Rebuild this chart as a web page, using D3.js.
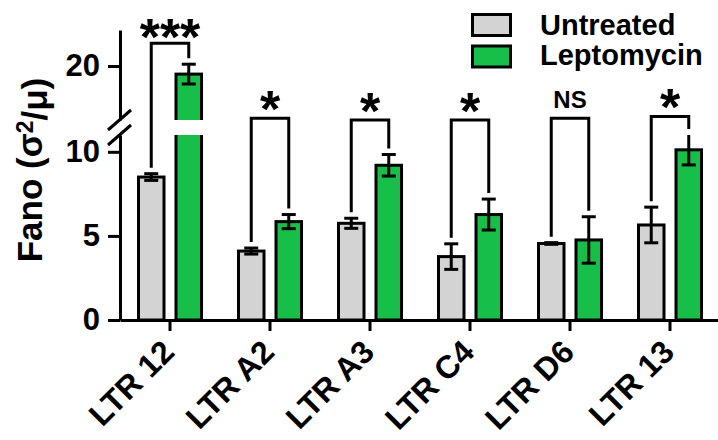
<!DOCTYPE html>
<html>
<head>
<meta charset="utf-8">
<script src="https://cdn.jsdelivr.net/npm/d3@7"></script>
<style>
  body { margin: 0; background: #fff; }
  svg { display: block; font-family: "Liberation Sans", Arial, sans-serif; font-weight: bold; }
</style>
</head>
<body>
<div id="chart"></div>
<script>
// data
const categories = ['LTR 12', 'LTR A2', 'LTR A3', 'LTR C4', 'LTR D6', 'LTR 13'];
const series = ['Untreated', 'Leptomycin'];
const untreated = [8.5, 4.1, 5.75, 3.77, 4.55, 5.65];
const untreatedErr = [0.2, 0.18, 0.3, 0.76, 0.05, 1.06];
const leptomycin = [19.55, 5.85, 9.2, 6.27, 4.76, 10.12];
const leptomycinErr = [0.55, 0.42, 0.64, 0.92, 1.38, 0.9];
const significance = ['***', '*', '*', '*', 'NS', '*'];
const bracketLevel = [21.26, 17.1, 17.0, 17.0, 17.1, 17.2]; // on the upper scale
const lowerTicks = [0, 5, 10];
const upperTicks = [20];
const lowerDomain = [0, 11];
const upperDomain = [17, 22];

const width = 718, height = 440;
const colors = { Untreated: '#d3d3d3', Leptomycin: '#17bf48' };
const values = { Untreated: untreated, Leptomycin: leptomycin };
const errors = { Untreated: untreatedErr, Leptomycin: leptomycinErr };

const svg = d3.select('#chart').append('svg')
  .attr('width', width)
  .attr('height', height);

// scales: broken y axis, two segments
const x = d3.scaleBand().domain(categories).range([120, 720]);
const xs = d3.scaleBand().domain(series).range([-33, 33]).paddingInner(0.24);
const yLow = d3.scaleLinear().domain(lowerDomain).range([320, 135]);
const yUp = d3.scaleLinear().domain(upperDomain).range([120, 30]);
const yOf = v => v <= lowerDomain[1] ? yLow(v) : yUp(v);
const cx = (c, s) => x(c) + x.bandwidth() / 2 + xs(s) + xs.bandwidth() / 2;

const defs = svg.append('defs');
defs.append('clipPath').attr('id', 'clipLow')
  .append('rect').attr('x', 0).attr('y', yLow(lowerDomain[1])).attr('width', width).attr('height', height);
defs.append('clipPath').attr('id', 'clipUp')
  .append('rect').attr('x', 0).attr('y', 0).attr('width', width).attr('height', yUp(upperDomain[0]));

// bars
const bw = xs.bandwidth() - 3;
series.forEach(s => {
  const lowTop = v => v > lowerDomain[1] ? yLow(lowerDomain[1]) - 6 : yLow(v);
  const gLow = svg.append('g').attr('clip-path', 'url(#clipLow)');
  gLow.selectAll('rect')
    .data(categories)
    .enter().append('rect')
    .attr('x', c => cx(c, s) - bw / 2)
    .attr('y', (c, i) => lowTop(values[s][i]))
    .attr('width', bw)
    .attr('height', (c, i) => yLow(0) - lowTop(values[s][i]))
    .attr('fill', colors[s])
    .attr('stroke', '#000')
    .attr('stroke-width', 3);

  const gUp = svg.append('g').attr('clip-path', 'url(#clipUp)');
  gUp.selectAll('rect')
    .data(categories.filter((c, i) => values[s][i] > upperDomain[0]))
    .enter().append('rect')
    .attr('x', c => cx(c, s) - bw / 2)
    .attr('y', c => yUp(values[s][categories.indexOf(c)]))
    .attr('width', bw)
    .attr('height', c => yUp(upperDomain[0]) + 6 - yUp(values[s][categories.indexOf(c)]))
    .attr('fill', colors[s])
    .attr('stroke', '#000')
    .attr('stroke-width', 3);
});

// error bars
const errG = svg.append('g').attr('stroke', '#000').attr('stroke-width', 3);
series.forEach(s => {
  categories.forEach((c, i) => {
    const v = values[s][i], e = errors[s][i];
    const xc = cx(c, s);
    let lo = v - e, hi = v + e, capHi = true;
    if (v <= lowerDomain[1] && hi > lowerDomain[1]) { hi = lowerDomain[1]; capHi = false; }
    errG.append('line').attr('x1', xc).attr('x2', xc).attr('y1', yOf(lo)).attr('y2', yOf(hi));
    errG.append('line').attr('x1', xc - 7).attr('x2', xc + 7).attr('y1', yOf(lo)).attr('y2', yOf(lo));
    if (capHi) errG.append('line').attr('x1', xc - 7).attr('x2', xc + 7).attr('y1', yOf(hi)).attr('y2', yOf(hi));
  });
});

// significance brackets
const topOf = (s, i) => Math.min(values[s][i] + errors[s][i],
  values[s][i] <= lowerDomain[1] ? lowerDomain[1] : Infinity);
const labelGap = [10, 13, 13, 13, 10, 13];
categories.forEach((c, i) => {
  const yb = yUp(bracketLevel[i]);
  const x1 = cx(c, 'Untreated'), x2 = cx(c, 'Leptomycin');
  const y1 = yOf(topOf('Untreated', i)) - 6, y2 = yOf(topOf('Leptomycin', i)) - 6;
  svg.append('path')
    .attr('d', `M${x1},${y1}V${yb}H${x2}V${y2}`)
    .attr('fill', 'none')
    .attr('stroke', '#000')
    .attr('stroke-width', 3);
  const isNS = significance[i] === 'NS';
  svg.append('text')
    .attr('x', (x1 + x2) / 2)
    .attr('y', isNS ? yb - labelGap[i] : yb - labelGap[i] + 0.42 * 52)
    .attr('text-anchor', 'middle')
    .style('font-size', isNS ? '24px' : '52px')
    .text(significance[i]);
});

// y axis, two segments
const axLow = svg.append('g')
  .attr('transform', 'translate(120,0)')
  .call(d3.axisLeft(yLow).tickValues(lowerTicks).tickFormat(d3.format('d'))
    .tickSize(12).tickSizeOuter(0).tickPadding(8));
const axUp = svg.append('g')
  .attr('transform', 'translate(120,0)')
  .call(d3.axisLeft(yUp).tickValues(upperTicks).tickFormat(d3.format('d'))
    .tickSize(12).tickSizeOuter(0).tickPadding(8));
[axLow, axUp].forEach(ax => {
  ax.selectAll('path, line').attr('stroke', '#000').attr('stroke-width', 3);
  ax.selectAll('text')
    .attr('fill', '#000')
    .style('font-size', '31px')
    .style('font-family', '"Liberation Sans", Arial, sans-serif')
    .style('font-weight', 'bold');
});

// break marks
[yUp(upperDomain[0]), yLow(lowerDomain[1])].forEach(yy => {
  svg.append('line')
    .attr('x1', 131).attr('y1', yy - 10)
    .attr('x2', 108).attr('y2', yy + 10)
    .attr('stroke', '#000').attr('stroke-width', 3);
});

// x axis
const axX = svg.append('g')
  .attr('transform', `translate(0,${yLow(0)})`)
  .call(d3.axisBottom(x).tickSize(11).tickSizeOuter(0).tickFormat(''));
axX.selectAll('path, line').attr('stroke', '#000').attr('stroke-width', 3);

svg.append('g').selectAll('text')
  .data(categories)
  .enter().append('text')
  .attr('transform', c => `translate(${x(c) + x.bandwidth() / 2 + 6},354) rotate(-45)`)
  .attr('text-anchor', 'end')
  .style('font-size', '32px')
  .text(c => c);

// y axis title
const title = svg.append('text')
  .attr('transform', 'translate(42,170) rotate(-90)')
  .attr('text-anchor', 'middle')
  .style('font-size', '35px');
title.append('tspan').text('Fano (σ');
title.append('tspan').attr('dy', '-0.4em').style('font-size', '23px').text('2');
title.append('tspan').attr('dy', '0.4em').text('/μ)');

// legend
const legend = svg.append('g');
series.forEach((s, i) => {
  legend.append('rect')
    .attr('x', 472.5).attr('y', 14.5 + i * 31.5)
    .attr('width', 38).attr('height', 21)
    .attr('fill', colors[s])
    .attr('stroke', '#000').attr('stroke-width', 3);
  legend.append('text')
    .attr('x', 540).attr('y', 35 + i * 30)
    .style('font-size', '29px')
    .text(s);
});
</script>
</body>
</html>
